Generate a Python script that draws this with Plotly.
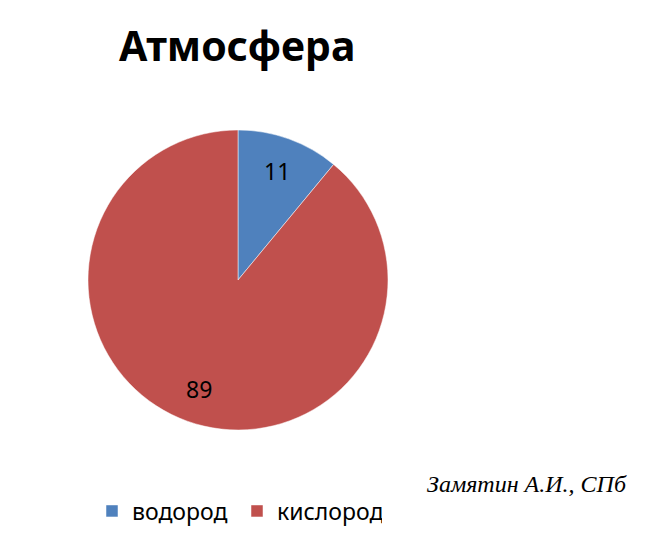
import math
import plotly.graph_objects as go

labels = ["водород", "кислород"]
values = [11, 89]
colors = ["#4F81BD", "#C0504D"]

W, H = 650, 537
OFF = 8  # page body margin around the plot
cx, cy, R = 238 - OFF, 280 - OFF, 150  # pie centre and radius in figure pixels


def px_x(x):
    return x / W


def px_y(y):
    return 1 - y / H


fig = go.Figure()
fig.add_trace(go.Pie(
    labels=labels, values=values, sort=False, direction="clockwise", rotation=0,
    marker=dict(colors=colors, line=dict(color="white", width=0.5)),
    textinfo="none", hoverinfo="label+value",
    domain=dict(x=[px_x(cx - R), px_x(cx + R)], y=[px_y(cy + R), px_y(cy - R)]),
))

# data labels placed at the middle angle of each slice
total = sum(values)
cum = 0
annotations = []
for v in values:
    mid = (cum + v / 2) / total * 2 * math.pi
    cum += v
    r = 0.77 * R
    lx = cx + r * math.sin(mid)
    ly = cy - r * math.cos(mid)
    annotations.append(dict(x=px_x(lx), y=px_y(ly), xref="paper", yref="paper",
                            xanchor="center", yanchor="middle",
                            text=str(v), showarrow=False,
                            font=dict(family="Noto Sans", size=23, color="black")))

annotations.append(dict(x=px_x(237 - OFF), y=px_y(45 - OFF), xref="paper", yref="paper",
                        xanchor="center", yanchor="middle",
                        text="<b>Атмосфера</b>", showarrow=False,
                        font=dict(family="Noto Sans", size=41, color="black")))
annotations.append(dict(x=px_x(527 - OFF), y=px_y(484 - OFF), xref="paper", yref="paper",
                        xanchor="center", yanchor="middle",
                        text="<i>Замятин А.И., СПб</i>", showarrow=False,
                        font=dict(family="Liberation Serif", size=24, color="black")))

fig.update_layout(
    width=W, height=H, margin=dict(l=0, r=0, t=0, b=0),
    paper_bgcolor="white", plot_bgcolor="white",
    showlegend=True,
    legend=dict(orientation="h", x=px_x(92 - OFF), xanchor="left", y=px_y(511 - OFF), yanchor="middle",
                font=dict(family="Noto Sans", size=23, color="black"),
                entrywidth=100, entrywidthmode="pixels",
                itemclick=False, itemdoubleclick=False),
    annotations=annotations,
)

fig.write_html("out.html")
